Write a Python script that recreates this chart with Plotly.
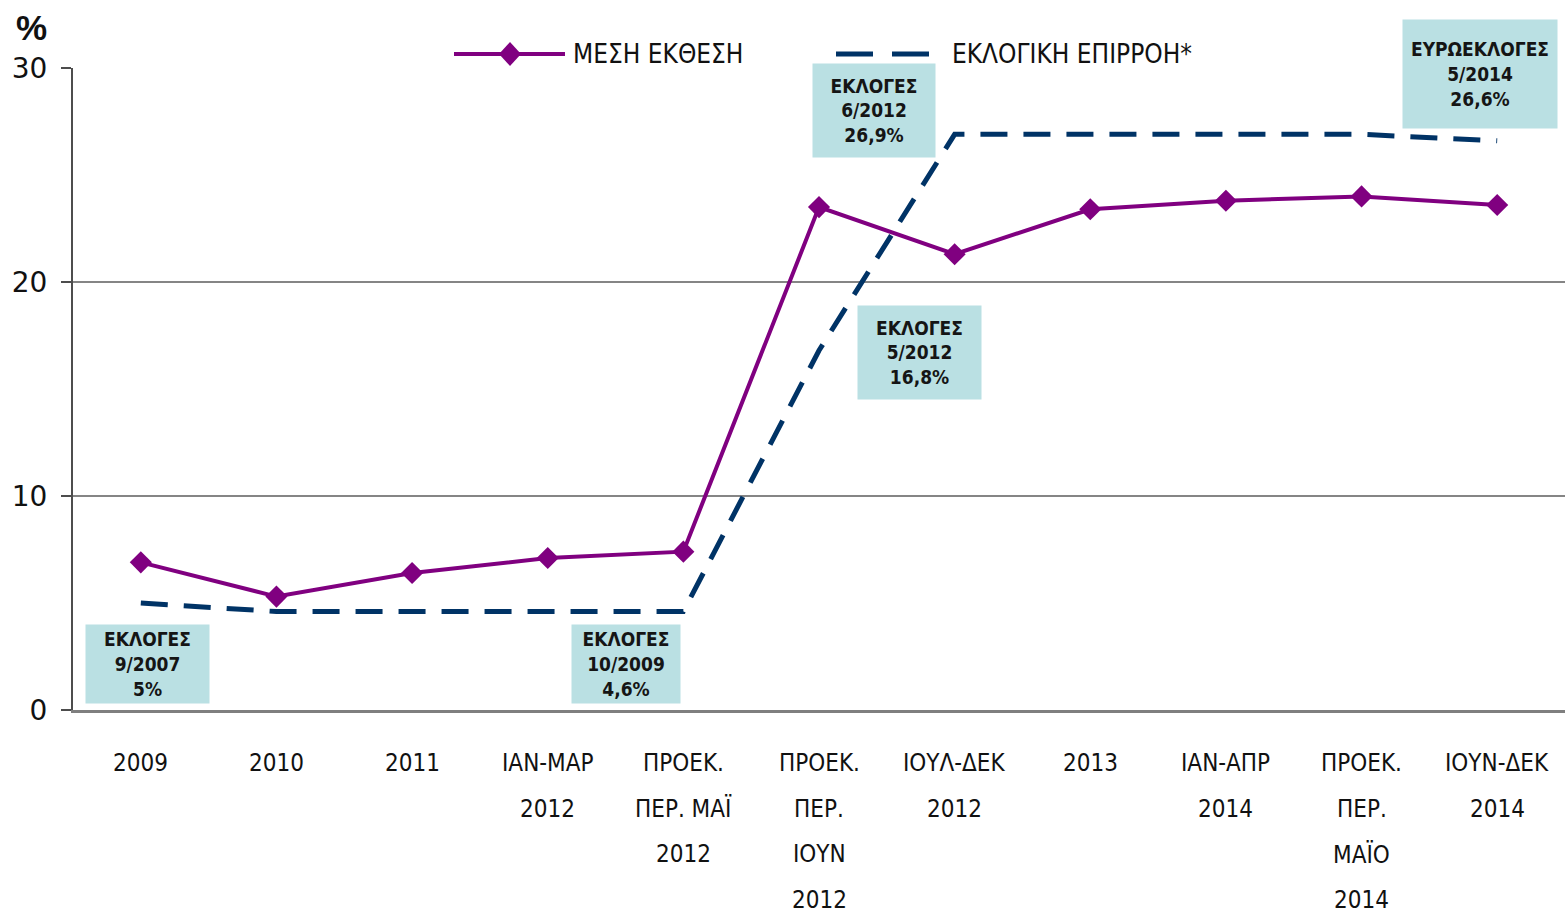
import plotly.graph_objects as go

# ---- data ----
categories = ["2009", "2010", "2011", "ΙΑΝ-ΜΑΡ<br>2012", "ΠΡΟΕΚ.<br>ΠΕΡ. ΜΑΪ<br>2012",
              "ΠΡΟΕΚ.<br>ΠΕΡ.<br>ΙΟΥΝ<br>2012", "ΙΟΥΛ-ΔΕΚ<br>2012", "2013",
              "ΙΑΝ-ΑΠΡ<br>2014", "ΠΡΟΕΚ.<br>ΠΕΡ.<br>ΜΑΪΟ<br>2014", "ΙΟΥΝ-ΔΕΚ<br>2014"]
mesi_ekthesi = [6.9, 5.3, 6.4, 7.1, 7.4, 23.5, 21.3, 23.4, 23.8, 24.0, 23.6]
eklogiki_epirroi = [5.0, 4.6, 4.6, 4.6, 4.6, 16.8, 26.9, 26.9, 26.9, 26.9, 26.6]
series_names = ["ΜΕΣΗ ΕΚΘΕΣΗ", "ΕΚΛΟΓΙΚΗ ΕΠΙΡΡΟΗ*"]
y_ticks = [0, 10, 20, 30]

# election call-out boxes: (text, category index, y value, xshift px, width, height)
callouts = [
    ("ΕΚΛΟΓΕΣ<br>9/2007<br>5%", 0, 2.15, 7, 121, 76),
    ("ΕΚΛΟΓΕΣ<br>10/2009<br>4,6%", 4, 2.15, -57, 106, 76),
    ("ΕΚΛΟΓΕΣ<br>6/2012<br>26,9%", 6, 28.0, -81, 120, 91),
    ("ΕΚΛΟΓΕΣ<br>5/2012<br>16,8%", 6, 16.7, -35, 121, 91),
    ("ΕΥΡΩΕΚΛΟΓΕΣ<br>5/2014<br>26,6%", 10, 29.7, -17, 152, 106),
]

PURPLE = "#800080"
NAVY = "#003366"
W, H = 1565, 914
ML, MR, MT, MB = 73, 0, 68, 204
PW, PH = W - ML - MR, H - MT - MB
LABEL_FONT = "DejaVu Sans Condensed"


def px_x(p):
    return (p - ML) / PW


def px_y(p):
    return (H - MB - p) / PH


fig = go.Figure()
fig.add_trace(go.Scatter(
    x=categories, y=eklogiki_epirroi, mode="lines", name=series_names[1],
    line=dict(color=NAVY, width=5, dash="27px,16px"), showlegend=False))
fig.add_trace(go.Scatter(
    x=categories, y=mesi_ekthesi, mode="lines+markers", name=series_names[0],
    line=dict(color=PURPLE, width=4),
    marker=dict(symbol="diamond", size=17, color=PURPLE), showlegend=False))

annotations = []
# x tick labels (one annotation per line to get the wide line spacing)
for ci, cat in enumerate(categories):
    for i, line in enumerate(cat.split("<br>")):
        annotations.append(dict(
            x=ci, xref="x", y=0, yref="paper", text=line, showarrow=False,
            xanchor="center", yanchor="middle", yshift=-(53 + 45.5 * i),
            font=dict(family=LABEL_FONT, size=24, color="#111111")))

for text, ci, yv, xs, bw, bh in callouts:
    annotations.append(dict(
        x=ci, y=yv, xref="x", yref="y", text="<b>" + text + "</b>",
        showarrow=False, xshift=xs, width=bw, height=bh, bgcolor="#bae0e3",
        align="center", valign="middle",
        font=dict(family="DejaVu Sans Condensed", size=19, color="#151515")))

# % label
annotations.append(dict(
    x=px_x(31), y=px_y(28), xref="paper", yref="paper", text="<b>%</b>",
    showarrow=False, xanchor="center", yanchor="middle",
    font=dict(family="Liberation Sans", size=35, color="#111111")))

# custom legend
ly = px_y(54)
annotations.append(dict(
    x=px_x(571), y=ly, xref="paper", yref="paper", text=series_names[0],
    showarrow=False, xanchor="left", yanchor="middle",
    font=dict(family=LABEL_FONT, size=26, color="#111111")))
annotations.append(dict(
    x=px_x(950), y=ly, xref="paper", yref="paper", text=series_names[1],
    showarrow=False, xanchor="left", yanchor="middle",
    font=dict(family=LABEL_FONT, size=26, color="#111111")))

dx, dy = 11 / PW, 12 / PH
cx = px_x(510)
shapes = [
    dict(type="rect", xref="paper", yref="paper", x0=px_x(410), x1=px_x(1245),
         y0=px_y(74), y1=px_y(34), fillcolor="white", line=dict(width=0), layer="above"),
    dict(type="line", xref="paper", yref="paper", x0=px_x(454), x1=px_x(565),
         y0=ly, y1=ly, line=dict(color=PURPLE, width=4), layer="above"),
    dict(type="path", xref="paper", yref="paper",
         path=f"M {cx - dx} {ly} L {cx} {ly + dy} L {cx + dx} {ly} L {cx} {ly - dy} Z",
         fillcolor=PURPLE, line=dict(width=0), layer="above"),
    dict(type="line", xref="paper", yref="paper", x0=px_x(836), x1=px_x(929),
         y0=ly, y1=ly, line=dict(color=NAVY, width=5, dash="37px,19px"), layer="above"),
]

fig.update_layout(
    width=W, height=H,
    margin=dict(l=ML, r=MR, t=MT, b=MB, pad=0),
    plot_bgcolor="white", paper_bgcolor="white",
    annotations=annotations, shapes=shapes,
    xaxis=dict(type="category", showticklabels=False, showgrid=False,
               showline=True, linecolor="#7f7f7f", linewidth=2.5, ticks="",
               range=[-0.5, len(categories) - 0.5]),
    yaxis=dict(range=[0, 30], tickvals=y_ticks, showgrid=True, gridcolor="#858585",
               gridwidth=1.5, zeroline=False, showline=True, linecolor="#4d4d4d",
               linewidth=2, ticks="outside", ticklen=10, tickcolor="#4d4d4d",
               tickwidth=1.5, ticklabelstandoff=8,
               tickfont=dict(family="DejaVu Sans", size=28, color="#111111")),
)

fig.write_html("out.html", config={"displayModeBar": False},
               post_script="document.body.style.margin='0px';document.body.style.overflow='hidden';")
